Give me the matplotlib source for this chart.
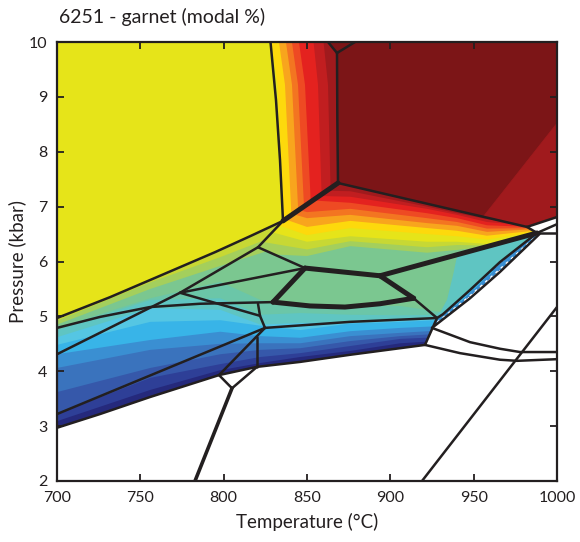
import numpy as np
import matplotlib.pyplot as plt
from matplotlib.colors import ListedColormap, BoundaryNorm
from matplotlib.patches import Polygon

plt.rcParams['font.family'] = ['Lato', 'DejaVu Sans']

# one colour per 1 % garnet step
band_colors = ['#25297c', '#2e3f97', '#3658aa', '#3a73bd', '#3a8fd2', '#38b4e8',
               '#55c6e3', '#5fc5c2', '#6bc6a8', '#7bc790', '#a4cf5c', '#c7d834',
               '#e6e419', '#fdd90c', '#f8a51d', '#f37521', '#ee4a23', '#e4221f',
               '#c11e20', '#a01a1d', '#7c1517']
cmap = ListedColormap(band_colors)
levels = np.arange(0, len(band_colors) + 1)
norm = BoundaryNorm(levels, cmap.N)

# ---- phase boundaries, (T degC, P kbar) ----
yel_right = [(828.1, 10.0), (831.4, 8.94), (833.8, 7.85), (835.6, 6.74)]
n2_n3 = [(835.6, 6.74), (868.6, 7.43)]
n3_top = [(868.6, 7.43), (868.2, 8.6), (868.0, 9.8)]
y_left = [(868.0, 9.8), (862.6, 10.0)]
y_right = [(868.0, 9.8), (878.8, 10.0)]
n3_n4 = [(868.6, 7.43), (982.0, 6.63)]
n4_edge = [(982.0, 6.63), (1000, 6.81)]
n4_n5 = [(982.0, 6.63), (988.0, 6.52)]
n5_edge_a = [(988.0, 6.52), (1000, 6.68)]
n5_edge_b = [(988.0, 6.52), (1000, 6.52)]
yel_lower = [(835.6, 6.74), (815.8, 6.46), (794.8, 6.17), (761.8, 5.74), (731.8, 5.35), (700, 4.97)]
n2_b = [(835.6, 6.74), (820.6, 6.26)]
b_c = [(820.6, 6.26), (848.8, 5.88)]
line3 = [(820.6, 6.26), (773.8, 5.43), (700, 4.31)]
f_c = [(773.8, 5.43), (848.8, 5.88)]
f_g = [(773.8, 5.43), (821.8, 5.01), (824.8, 4.79)]
g_spike = [(821.8, 5.01), (820.6, 5.23)]
line2 = [(700, 4.79), (725.8, 4.99), (755.8, 5.17), (785.8, 5.23), (829.6, 5.26)]
line4 = [(700, 3.22), (824.8, 4.79)]
line5 = [(797.2, 3.93), (824.8, 4.79)]
vert = [(820.0, 4.62), (820.0, 4.08)]
blue_top = [(824.8, 4.79), (875.8, 4.90), (928.0, 4.97)]
arc_e = [(914.0, 5.33), (928.0, 4.97)]
upper_diag = [(988.0, 6.52), (965.8, 5.99), (947.8, 5.48), (931.6, 5.04), (928.0, 4.97)]
lower_diag = [(989.5, 6.50), (965.8, 5.81), (947.8, 5.33), (925.0, 4.79)]
e_corner = [(928.0, 4.97), (920.8, 4.48)]
bottom = [(700, 2.97), (725.8, 3.22), (755.8, 3.53), (797.2, 3.93), (820.0, 4.08),
          (845.8, 4.17), (875.8, 4.30), (920.8, 4.48)]
h_fork = [(797.2, 3.93), (805.0, 3.69), (820.0, 4.08)]
fork_down = [(805.0, 3.69), (782.8, 2.0)]
w1 = [(925.0, 4.79), (947.8, 4.53), (965.8, 4.41), (977.8, 4.35), (1000, 4.35)]
w2 = [(920.8, 4.48), (941.8, 4.33), (965.8, 4.21), (976.0, 4.19), (1000, 4.22)]
diag_right = [(919.0, 2.0), (1000, 5.17)]

# heavy reaction lines
c_arc = [(848.8, 5.88), (829.6, 5.26)]
arc = [(829.6, 5.26), (851.8, 5.19), (872.8, 5.17), (893.8, 5.23), (914.0, 5.33)]
c_d = [(848.8, 5.88), (893.8, 5.74)]
d_arc = [(893.8, 5.74), (914.0, 5.33)]
d_n5 = [(893.8, 5.74), (988.0, 6.52)]

thin_lines = [yel_right, n3_top, y_left, y_right, n3_n4, n4_edge, n4_n5, n5_edge_a,
              n5_edge_b, yel_lower, n2_b, b_c, line3, f_c, f_g, g_spike, line2, line4,
              line5, vert, blue_top, arc_e, upper_diag, lower_diag, e_corner, bottom,
              h_fork, w1, w2, diag_right]
thick_lines = [n2_n3, c_arc, arc, c_d, d_arc, d_n5]

# ---- field outlines ----
yellow_poly = [(700, 10.0)] + yel_right + yel_lower[1:]
orange_poly = yel_right + [(868.6, 7.43), (868.0, 9.8), (862.6, 10.0)]
darkred_poly = [(862.6, 10.0), (1000, 10.0), (1000, 6.81), (982.0, 6.63), (868.6, 7.43), (868.0, 9.8)]
redtri_poly = [(955.6, 6.81), (1000, 8.52), (1000, 6.81), (982.0, 6.63)]
wedge_poly = [(835.6, 6.74), (868.6, 7.43), (982.0, 6.63), (988.0, 6.52),
              (893.8, 5.74), (848.8, 5.88), (820.6, 6.26)]
lower_poly = (yel_lower + bottom + [(928.0, 4.97)] + upper_diag[::-1][1:]
              + [(893.8, 5.74), (848.8, 5.88), (820.6, 6.26)])
strip_poly = upper_diag + lower_diag[::-1]

# ---- garnet isopleths (mode %) inside each field ----
# orange field: isopleths run top to bottom, mode rises to the right
orange_base = 12
orange_levels = [13, 14, 15, 16, 17, 18, 19]
orange_iso = [
    [(828.2, 10.1), (832.3, 9.22), (835.9, 7.0), (836.3, 6.6)],
    [(832.7, 10.1), (836.8, 9.22), (840.4, 7.0), (840.8, 6.6)],
    [(836.9, 10.1), (841.0, 9.22), (844.6, 7.0), (845.0, 6.6)],
    [(840.5, 10.1), (844.6, 9.22), (848.2, 7.0), (848.6, 6.6)],
    [(844.7, 10.1), (848.8, 9.22), (852.4, 7.0), (852.8, 6.6)],
    [(853.6, 10.1), (856.6, 9.22), (859.0, 7.0), (859.3, 6.6)],
    [(859.6, 10.1), (862.6, 9.22), (864.4, 7.0), (864.7, 6.6)],
]

# wedge field: mode rises upward
wedge_base = 9
wedge_levels = [10, 11, 12, 13, 14, 15, 16, 17, 18, 19]
wedge_T = [815, 850, 876, 922, 940, 958, 992]
wedge_iso_P = [
    [6.15, 6.10, 6.28, 6.16, 6.21, 6.27, 6.50],
    [6.40, 6.22, 6.37, 6.26, 6.30, 6.29, 6.52],
    [6.65, 6.36, 6.46, 6.36, 6.36, 6.32, 6.54],
    [6.85, 6.48, 6.61, 6.50, 6.46, 6.40, 6.56],
    [7.00, 6.63, 6.74, 6.61, 6.56, 6.47, 6.58],
    [7.10, 6.79, 6.85, 6.70, 6.65, 6.54, 6.60],
    [7.20, 6.90, 6.96, 6.79, 6.72, 6.60, 6.61],
    [7.30, 7.12, 7.07, 6.88, 6.79, 6.66, 6.62],
    [7.40, 7.20, 7.18, 6.96, 6.85, 6.72, 6.63],
    [7.50, 7.30, 7.28, 7.00, 6.88, 6.77, 6.64],
]

# lower field: mode rises upward
lower_base = 0
lower_levels = [1, 2, 3, 4, 5, 6, 7, 8, 9, 10, 11]
lower_T = [700, 756, 798, 822, 846, 876, 906, 928, 960, 1000]
lower_iso = [
    list(zip(lower_T, [3.09, 3.66, 4.02, 4.15, 4.26, 4.37, 4.51, 4.55, 4.62, 4.70])),
    list(zip(lower_T, [3.22, 3.88, 4.13, 4.26, 4.33, 4.46, 4.59, 4.62, 4.70, 4.78])),
    list(zip(lower_T, [3.62, 4.06, 4.31, 4.39, 4.42, 4.55, 4.64, 4.68, 4.76, 4.84])),
    list(zip(lower_T, [4.06, 4.39, 4.50, 4.51, 4.51, 4.64, 4.70, 4.74, 4.82, 4.90])),
    list(zip(lower_T, [4.31, 4.57, 4.72, 4.64, 4.61, 4.73, 4.79, 4.82, 4.90, 4.96])),
    list(zip(lower_T, [4.48, 4.90, 4.93, 4.83, 4.75, 4.87, 4.90, 4.93, 4.98, 5.02])),
    list(zip(lower_T, [4.62, 5.15, 5.12, 4.85, 4.88, 4.89, 4.93, 4.96, 5.00, 5.05])),
    [(700, 4.75), (756, 5.30), (798, 5.33), (822, 5.03), (846, 5.06), (876, 5.03),
     (906, 5.02), (928, 5.03), (932, 5.20), (936, 5.70), (939, 6.20), (942, 7.0)],
    [(700, 4.79), (756, 5.33), (798, 5.63), (822, 5.30), (846, 5.21), (876, 5.19),
     (906, 5.19), (930, 5.08), (934, 5.30), (938, 5.80), (941, 6.25), (944, 7.0)],
    [(700, 4.85), (756, 5.50), (798, 5.92), (822, 6.15), (846, 6.40), (870, 7.5)],
    [(700, 4.92), (756, 5.62), (798, 6.08), (822, 6.36), (846, 6.70), (870, 7.8)],
]

strip_T = [988.0, 928.0, 925.0, 989.5, 958.0]
strip_P = [6.52, 4.97, 4.79, 6.50, 5.65]
strip_mode = [4.6, 5.5, 3.5, 4.2, 4.5]

yellow_mode = 12
darkred_mode = 20
redtri_mode = 19

fig = plt.figure(figsize=(5.8, 5.42), dpi=100)
ax = fig.add_axes([57 / 580, 1 - 481 / 542, 500 / 580, 439 / 542])
ax.set_xlim(700, 1000)
ax.set_ylim(2, 10)


def fill_uniform(poly, mode):
    ax.add_patch(Polygon(poly, closed=True, facecolor=band_colors[mode],
                         edgecolor=band_colors[mode], lw=0.5, zorder=1))


def fill_bands(poly, base, lvls, isos, side='above'):
    """Paint a field in base colour, then each isopleth's high side on top."""
    clip = Polygon(poly, closed=True, facecolor=band_colors[base],
                   edgecolor=band_colors[base], lw=0.5, zorder=1)
    ax.add_patch(clip)
    for k, iso in zip(lvls, isos):
        if side == 'above':
            pts = iso + [(iso[-1][0], 11), (iso[0][0], 11)]
        else:
            pts = iso + [(1010, iso[-1][1]), (1010, iso[0][1])]
        band = Polygon(pts, closed=True, facecolor=band_colors[k], edgecolor='none', zorder=1)
        ax.add_patch(band)
        band.set_clip_path(clip)


fill_uniform(yellow_poly, yellow_mode)
fill_uniform(darkred_poly, darkred_mode)
fill_uniform(redtri_poly, redtri_mode)
fill_bands(orange_poly, orange_base, orange_levels, orange_iso, side='right')
fill_bands(wedge_poly, wedge_base, wedge_levels,
           [list(zip(wedge_T, p)) for p in wedge_iso_P])
fill_bands(lower_poly, lower_base, lower_levels, lower_iso)

strip_clip = Polygon(strip_poly, closed=True, facecolor='none', edgecolor='none')
ax.add_patch(strip_clip)
cs = ax.tricontourf(strip_T, strip_P, strip_mode, levels=levels, cmap=cmap, norm=norm, zorder=1)
cs.set_clip_path(strip_clip)

# dashed seam inside the thin blue field
seam = np.array(lower_diag) * 0.7 + np.array(upper_diag[:4]) * 0.3
ax.plot(seam[:, 0], seam[:, 1], color='white', lw=1.0, ls=(0, (2, 3)), zorder=2)

line_color = '#231f20'
for seg in thin_lines:
    seg = np.array(seg)
    ax.plot(seg[:, 0], seg[:, 1], color=line_color, lw=1.8, solid_capstyle='round', zorder=3)
for seg in thick_lines:
    seg = np.array(seg)
    ax.plot(seg[:, 0], seg[:, 1], color=line_color, lw=3.6, solid_capstyle='round', zorder=3)
ax.plot(*np.array(fork_down).T, color=line_color, lw=2.6, zorder=3)

ax.set_xticks(np.arange(700, 1001, 50))
ax.set_yticks(np.arange(2, 11, 1))
ax.tick_params(direction='in', length=5, width=1.3, top=True, right=True,
               labelsize=11.5, colors=line_color, pad=7)
for sp in ax.spines.values():
    sp.set_linewidth(1.6)
    sp.set_color(line_color)
    sp.set_zorder(5)

ax.set_xlabel('Temperature (°C)', fontsize=13.5, color=line_color, labelpad=6)
ax.set_ylabel('Pressure (kbar)', fontsize=13.5, color=line_color, labelpad=2)
fig.text(59 / 580, 1 - 17 / 542, '6251 - garnet (modal %)', fontsize=14,
         color=line_color, va='center', ha='left')

fig.savefig('out.png', dpi=100)
